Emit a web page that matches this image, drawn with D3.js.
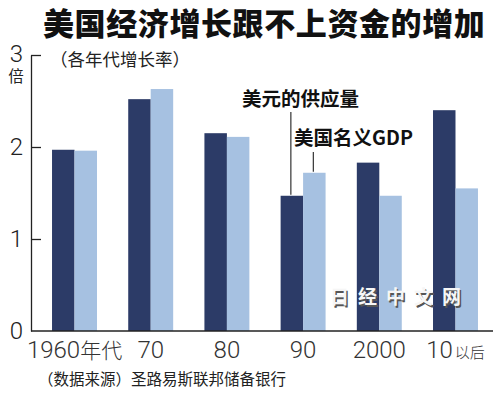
<!DOCTYPE html>
<html>
<head>
<meta charset="utf-8">
<script src="https://cdn.jsdelivr.net/npm/d3@7"></script>
<style>
  body { margin: 0; background: #fff; }
  svg { display: block; }
  .cjk { font-family: "Noto Sans CJK SC", sans-serif; }
  .num { font-family: Roboto, "Liberation Sans", Arial, sans-serif; font-weight: 300; }
</style>
</head>
<body>
<div id="chart"></div>
<script>
// data
const decades = ["1960年代", "70", "80", "90", "2000", "10以后"];
const seriesKeys = ["money", "gdp"];
const seriesNames = ["美元的供应量", "美国名义GDP"];
const moneySupply = [1.97, 2.52, 2.15, 1.47, 1.83, 2.40];
const nominalGDP = [1.96, 2.63, 2.11, 1.72, 1.47, 1.55];
const yTicks = [0, 1, 2, 3];

const colors = { money: "#2c3b67", gdp: "#a6c1e1" };

const W = 500, H = 395;
const svg = d3.select("#chart").append("svg")
    .attr("width", W)
    .attr("height", H);

// scales
const x0 = d3.scaleBand()
    .domain(decades)
    .range([31, 499])
    .paddingInner(0.41)
    .paddingOuter(0.276);

const x1 = d3.scaleBand()
    .domain(seriesKeys)
    .range([0, x0.bandwidth()]);

const y = d3.scaleLinear()
    .domain([0, 3])
    .range([331, 55]);

const rows = decades.map((d, i) => ({ decade: d, money: moneySupply[i], gdp: nominalGDP[i] }));

// title + subtitle
svg.append("text")
    .attr("class", "cjk")
    .attr("x", 43)
    .attr("y", 35)
    .attr("font-size", 31)
    .attr("font-weight", 900)
    .attr("letter-spacing", 0.6)
    .attr("fill", "#111")
    .text("美国经济增长跟不上资金的增加");

svg.append("text")
    .attr("class", "cjk")
    .attr("x", 50)
    .attr("y", 65.5)
    .attr("font-size", 17.5)
    .attr("fill", "#222")
    .text("（各年代增长率）");

// bars
const groups = svg.append("g")
    .selectAll("g")
    .data(rows)
    .join("g")
    .attr("transform", d => `translate(${x0(d.decade)},0)`);

groups.selectAll("rect")
    .data(d => seriesKeys.map(k => ({ key: k, value: d[k] })))
    .join("rect")
    .attr("x", d => x1(d.key))
    .attr("y", d => y(d.value))
    .attr("width", x1.bandwidth())
    .attr("height", d => y(0) - y(d.value))
    .attr("fill", d => colors[d.key]);

// y axis
const yAxis = svg.append("g")
    .attr("transform", `translate(31,0)`)
    .call(d3.axisLeft(y)
        .tickValues(yTicks)
        .tickSizeInner(-10)
        .tickSizeOuter(0)
        .tickPadding(8)
        .tickFormat(d3.format("d")));

yAxis.select(".domain").attr("stroke", "#222").attr("stroke-width", 1.3);
yAxis.selectAll(".tick line").attr("stroke", "#222").attr("stroke-width", 1.3)
    .filter(d => d === 0).remove();
yAxis.selectAll(".tick text")
    .attr("class", "num")
    .attr("font-size", 24)
    .attr("fill", "#222");
yAxis.selectAll(".tick text").filter(d => d === 3).attr("dy", "0.26em");

svg.append("text")
    .attr("class", "cjk")
    .attr("x", 16)
    .attr("y", 81.5)
    .attr("text-anchor", "middle")
    .attr("font-size", 15.5)
    .attr("fill", "#222")
    .text("倍");

// x axis
const xAxis = svg.append("g")
    .attr("transform", `translate(0,${y(0)})`)
    .call(d3.axisBottom(x0).tickSize(0).tickPadding(11));

xAxis.select(".domain").remove();
xAxis.append("line")
    .attr("x1", 31)
    .attr("x2", 493)
    .attr("stroke", "#222")
    .attr("stroke-width", 1.3);

xAxis.selectAll(".tick text")
    .attr("fill", "#333")
    .attr("dy", null)
    .attr("y", 27)
    .each(function(d) {
        const m = d.match(/^(\d+)(.*)$/);
        const t = d3.select(this).text(null);
        t.append("tspan")
            .attr("class", "num")
            .attr("font-size", 24)
            .text(m[1]);
        if (m[2]) {
            t.append("tspan")
                .attr("class", "cjk")
                .attr("font-size", m[2] === "以后" ? 15 : 21)
                .attr("font-weight", 300)
                .attr("dx", m[2] === "以后" ? 2 : 0)
                .text(m[2]);
        }
    });

// series labels with leader lines
const labelRow = decades.indexOf("90");
const labelPos = [
    { key: "money", x: 242, y: 106, lineTop: 112 },
    { key: "gdp", x: 294, y: 145, lineTop: 152 }
];
labelPos.forEach((p, i) => {
    const v = p.key === "money" ? moneySupply[labelRow] : nominalGDP[labelRow];
    const lx = x0(decades[labelRow]) + x1(p.key) + x1.bandwidth() / 2 - 1;
    svg.append("line")
        .attr("x1", lx).attr("x2", lx)
        .attr("y1", p.lineTop)
        .attr("y2", y(v) - 1)
        .attr("stroke", "#333")
        .attr("stroke-width", 1.2);
    svg.append("text")
        .attr("class", "cjk")
        .attr("x", p.x)
        .attr("y", p.y)
        .attr("font-size", 19.5)
        .attr("font-weight", 700)
        .attr("fill", "#111")
        .text(seriesNames[i]);
});

// watermark
const wm = svg.append("g").attr("class", "cjk")
    .attr("font-size", 19)
    .attr("font-weight", 700)
    .attr("letter-spacing", 9);
wm.append("text")
    .attr("x", 331.5).attr("y", 305.5)
    .attr("fill", "#555")
    .text("日经中文网");
wm.append("text")
    .attr("x", 330).attr("y", 304)
    .attr("fill", "#f6f6f6")
    .text("日经中文网");

// source
svg.append("text")
    .attr("class", "cjk")
    .attr("x", 38)
    .attr("y", 385)
    .attr("font-size", 15.5)
    .attr("fill", "#222")
    .text("（数据来源）圣路易斯联邦储备银行");
</script>
</body>
</html>
